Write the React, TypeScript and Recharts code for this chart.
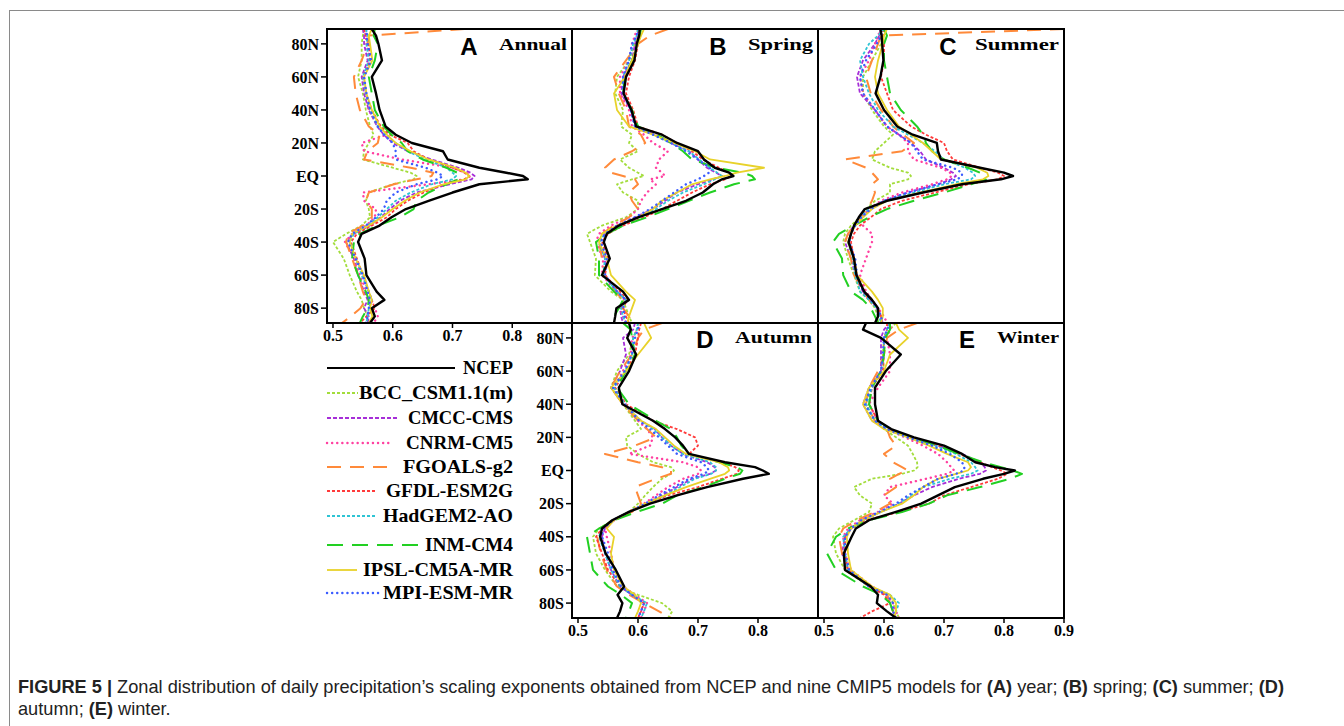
import { LineChart, Line, XAxis, YAxis } from "recharts";

// latitude grid (deg, + = N)
const LATS = [89, 85, 80, 70, 60, 50, 40, 30, 25, 20, 15, 10, 5, 2, 0, -2, -5, -10, -15, -20, -25, -30, -35, -40, -50, -60, -70, -75, -80, -85, -89];

const MODELS = ["NCEP", "BCC_CSM1.1(m)", "CMCC-CMS", "CNRM-CM5", "FGOALS-g2", "GFDL-ESM2G", "HadGEM2-AO", "INM-CM4", "IPSL-CM5A-MR", "MPI-ESM-MR"];

// rows follow MODELS order
const annual: number[][] = [
  [.565, .572, .576, .582, .565, .572, .578, .588, .605, .632, .684, .692, .745, .79, .818, .826, .745, .70, .66, .622, .598, .578, .548, .542, .553, .556, .573, .586, .565, .57, .562],
  [.552, .55, .548, .548, .542, .55, .555, .562, .568, .56, .552, .55, .60, .63, .64, .635, .60, .56, .555, .56, .562, .548, .522, .50, .518, .528, .54, .548, .552, .558, .56],
  [.55, .552, .552, .558, .548, .552, .56, .574, .585, .60, .625, .665, .71, .73, .737, .732, .695, .64, .612, .595, .58, .562, .535, .522, .535, .542, .552, .558, .552, .56, .558],
  [.552, .555, .556, .562, .552, .555, .56, .575, .59, .548, .552, .615, .70, .724, .73, .722, .66, .55, .552, .572, .57, .556, .532, .52, .536, .545, .556, .562, .57, .575, .568],
  [.72, .56, .558, .548, .535, .538, .545, .56, .578, .575, .558, .552, .63, .668, .665, .64, .602, .56, .555, .565, .565, .55, .525, .522, .532, .542, .55, .555, .546, .53, .515],
  [.552, .555, .56, .562, .55, .555, .565, .58, .595, .625, .635, .66, .70, .72, .728, .72, .685, .652, .625, .605, .59, .565, .54, .53, .54, .55, .56, .565, .57, .556, .545],
  [.555, .558, .556, .56, .55, .555, .562, .575, .588, .605, .625, .655, .69, .70, .706, .70, .665, .63, .605, .59, .575, .558, .535, .528, .538, .548, .56, .565, .56, .558, .556],
  [.57, .568, .575, .57, .56, .565, .57, .585, .598, .615, .625, .65, .69, .708, .712, .71, .69, .66, .64, .635, .612, .575, .545, .535, .532, .542, .555, .56, .558, .55, .545],
  [.565, .56, .562, .566, .552, .556, .565, .578, .59, .605, .63, .66, .705, .722, .728, .722, .685, .645, .62, .60, .582, .56, .532, .528, .538, .552, .56, .565, .562, .566, .56],
  [.558, .556, .558, .564, .552, .556, .562, .575, .585, .60, .605, .605, .655, .675, .684, .675, .64, .605, .59, .585, .572, .555, .532, .525, .538, .55, .558, .562, .56, .558, .555],
];

const spring: number[][] = [
  [.603, .602, .598, .594, .58, .576, .589, .597, .64, .665, .70, .71, .728, .752, .759, .74, .725, .708, .68, .64, .60, .568, .548, .543, .553, .54, .575, .585, .564, .562, .56],
  [.60, .598, .595, .585, .565, .562, .575, .572, .59, .585, .60, .57, .585, .60, .61, .59, .565, .575, .60, .60, .58, .54, .515, .52, .53, .528, .555, .575, .58, .585, .59],
  [.60, .60, .595, .59, .575, .572, .588, .595, .628, .655, .685, .70, .715, .73, .74, .725, .70, .665, .645, .625, .595, .565, .545, .535, .545, .545, .565, .58, .57, .572, .575],
  [.598, .595, .59, .585, .57, .57, .585, .59, .61, .625, .65, .635, .63, .64, .645, .62, .63, .615, .605, .60, .585, .555, .535, .53, .542, .54, .565, .578, .57, .575, .58],
  [.65, .62, .60, .58, .56, .568, .58, .585, .605, .612, .59, .56, .545, .555, .575, .595, .60, .585, .59, .60, .585, .56, .54, .535, .54, .545, .562, .575, .575, .585, .59],
  [.60, .60, .60, .595, .585, .58, .592, .60, .64, .665, .69, .708, .735, .752, .756, .745, .72, .69, .665, .64, .61, .575, .55, .54, .55, .545, .57, .582, .575, .58, .585],
  [.60, .598, .592, .585, .575, .575, .588, .595, .625, .655, .685, .702, .72, .732, .74, .728, .71, .675, .65, .63, .60, .568, .545, .535, .545, .542, .565, .58, .572, .575, .58],
  [.605, .603, .60, .59, .578, .575, .59, .60, .632, .655, .675, .69, .73, .775, .79, .795, .76, .72, .685, .65, .615, .575, .548, .53, .535, .535, .56, .575, .568, .56, .565],
  [.61, .605, .60, .59, .578, .56, .565, .585, .625, .66, .695, .72, .81, .765, .745, .72, .69, .665, .64, .625, .60, .565, .54, .535, .548, .555, .58, .595, .59, .585, .582],
  [.60, .598, .59, .585, .575, .575, .588, .595, .625, .655, .68, .70, .72, .718, .71, .70, .68, .66, .64, .62, .595, .565, .545, .538, .548, .545, .565, .58, .575, .578, .58],
];

const summer: number[][] = [
  [.594, .596, .597, .599, .594, .586, .60, .622, .648, .688, .69, .695, .76, .80, .815, .795, .73, .665, .605, .568, .558, .55, .545, .541, .55, .554, .567, .58, .59, .59, .585],
  [.60, .598, .595, .58, .565, .565, .58, .60, .615, .60, .585, .58, .61, .64, .645, .64, .61, .61, .585, .57, .56, .545, .535, .532, .54, .55, .56, .575, .585, .59, .59],
  [.595, .592, .585, .565, .555, .56, .585, .605, .625, .645, .66, .67, .70, .715, .72, .712, .69, .64, .60, .578, .56, .55, .54, .535, .545, .552, .565, .578, .588, .595, .598],
  [.595, .59, .585, .575, .56, .565, .585, .605, .625, .64, .64, .65, .695, .71, .713, .705, .68, .63, .595, .575, .565, .565, .58, .58, .57, .56, .57, .58, .59, .60, .605],
  [.90, .595, .59, .58, .57, .578, .595, .615, .632, .65, .63, .535, .57, .58, .585, .59, .58, .585, .58, .572, .56, .55, .54, .535, .545, .55, .565, .575, .585, .595, .595],
  [.598, .598, .60, .60, .595, .605, .615, .645, .67, .70, .705, .715, .76, .79, .80, .79, .74, .685, .63, .595, .578, .56, .55, .545, .55, .555, .568, .58, .59, .595, .595],
  [.60, .59, .575, .56, .565, .575, .59, .615, .64, .665, .685, .70, .735, .748, .752, .745, .70, .65, .60, .575, .56, .55, .545, .54, .548, .552, .56, .575, .588, .592, .595],
  [.60, .605, .60, .60, .605, .61, .628, .655, .665, .67, .68, .70, .74, .76, .765, .77, .745, .70, .65, .605, .575, .55, .525, .515, .53, .532, .545, .565, .578, .585, .59],
  [.605, .60, .598, .59, .585, .59, .605, .625, .645, .665, .68, .695, .755, .772, .774, .765, .72, .66, .605, .58, .565, .552, .545, .54, .55, .555, .58, .59, .598, .598, .595],
  [.598, .595, .588, .57, .56, .565, .585, .605, .625, .645, .655, .665, .715, .73, .73, .722, .69, .64, .60, .578, .562, .552, .545, .542, .552, .555, .565, .578, .59, .595, .598],
];

const autumn: number[][] = [
  [.585, .588, .582, .597, .585, .568, .574, .625, .645, .662, .675, .685, .745, .795, .808, .818, .775, .715, .665, .62, .585, .557, .54, .537, .546, .563, .577, .566, .574, .57, .565],
  [.60, .598, .592, .585, .565, .555, .575, .595, .605, .58, .582, .60, .625, .655, .66, .655, .64, .625, .612, .60, .585, .558, .535, .525, .53, .545, .565, .60, .64, .657, .65],
  [.595, .592, .575, .58, .57, .555, .575, .605, .628, .64, .655, .675, .715, .728, .73, .72, .69, .665, .64, .615, .585, .56, .545, .54, .545, .555, .57, .59, .61, .605, .60],
  [.60, .60, .59, .588, .575, .56, .578, .60, .615, .625, .62, .585, .675, .70, .705, .70, .675, .65, .63, .61, .585, .56, .545, .548, .555, .56, .575, .595, .615, .61, .605],
  [.64, .61, .60, .59, .57, .555, .575, .60, .615, .63, .595, .545, .60, .64, .655, .655, .63, .595, .60, .605, .59, .56, .54, .532, .538, .548, .565, .585, .61, .635, .655],
  [.605, .602, .60, .595, .58, .562, .58, .625, .665, .695, .70, .685, .74, .762, .768, .765, .74, .70, .65, .615, .585, .558, .54, .53, .54, .55, .57, .59, .61, .605, .60],
  [.60, .598, .592, .59, .578, .56, .578, .605, .625, .64, .655, .675, .72, .73, .73, .722, .695, .67, .645, .615, .585, .558, .54, .535, .545, .555, .57, .59, .615, .61, .605],
  [.575, .588, .59, .595, .58, .565, .585, .63, .655, .665, .672, .685, .735, .765, .774, .77, .745, .71, .665, .64, .598, .56, .535, .515, .52, .525, .55, .572, .59, .585, .58],
  [.61, .615, .622, .60, .58, .555, .575, .605, .63, .645, .66, .68, .735, .75, .752, .745, .72, .68, .645, .612, .585, .56, .548, .56, .555, .56, .575, .595, .605, .60, .595],
  [.602, .60, .595, .59, .578, .558, .578, .602, .62, .635, .65, .665, .705, .715, .718, .71, .685, .66, .635, .612, .585, .558, .542, .54, .55, .558, .572, .59, .61, .605, .60],
];

const winter: number[][] = [
  [.57, .565, .595, .628, .603, .585, .585, .59, .612, .65, .70, .73, .752, .785, .818, .80, .765, .718, .69, .662, .62, .575, .553, .546, .533, .535, .578, .59, .588, .605, .62],
  [.62, .61, .60, .598, .60, .575, .57, .585, .60, .62, .64, .648, .655, .656, .65, .63, .58, .55, .56, .58, .575, .55, .525, .515, .52, .535, .575, .61, .615, .62, .625],
  [.61, .60, .595, .595, .595, .575, .565, .58, .605, .645, .69, .73, .76, .768, .77, .76, .725, .68, .65, .625, .595, .565, .545, .535, .53, .54, .575, .605, .61, .615, .62],
  [.615, .61, .605, .61, .61, .59, .575, .59, .605, .635, .665, .69, .705, .712, .717, .705, .67, .61, .60, .615, .59, .56, .54, .532, .535, .545, .58, .605, .615, .62, .625],
  [.655, .625, .605, .60, .59, .575, .57, .585, .605, .61, .62, .60, .615, .63, .64, .625, .61, .62, .60, .61, .585, .555, .532, .525, .53, .54, .58, .605, .61, .615, .62],
  [.605, .605, .60, .60, .598, .58, .575, .59, .61, .645, .69, .725, .76, .78, .795, .805, .79, .745, .70, .675, .625, .57, .545, .535, .535, .54, .575, .60, .61, .58, .56],
  [.61, .605, .60, .60, .595, .58, .57, .585, .605, .64, .685, .72, .745, .752, .756, .745, .71, .665, .645, .625, .595, .565, .545, .532, .535, .54, .575, .61, .625, .62, .615],
  [.61, .61, .602, .60, .595, .58, .575, .59, .61, .645, .69, .725, .765, .795, .815, .83, .81, .76, .705, .675, .63, .575, .54, .52, .505, .52, .565, .595, .61, .615, .62],
  [.62, .625, .64, .61, .60, .575, .565, .58, .60, .64, .675, .705, .74, .745, .74, .72, .69, .665, .65, .63, .595, .565, .545, .538, .54, .545, .58, .61, .62, .62, .615],
  [.61, .605, .60, .598, .595, .578, .568, .585, .605, .64, .68, .71, .73, .734, .733, .72, .69, .665, .64, .62, .592, .562, .545, .535, .535, .542, .575, .605, .615, .615, .62],
];

const LAT_TICKS = [80, 60, 40, 20, 0, -20, -40, -60, -80];

const STYLES = [
  { color: "#000000", width: 2.4, dash: undefined as string | undefined, cap: "butt" },
  { color: "#a3dd3c", width: 1.8, dash: "3 2", cap: "butt" },
  { color: "#a62ed8", width: 1.8, dash: "4 2", cap: "butt" },
  { color: "#ff40a0", width: 2.4, dash: "0.1 5", cap: "round" },
  { color: "#ff8a3a", width: 2, dash: "14 9", cap: "butt" },
  { color: "#ff3a3a", width: 1.8, dash: "3 2", cap: "butt" },
  { color: "#2ec4d4", width: 1.8, dash: "3 2", cap: "butt" },
  { color: "#22d022", width: 2, dash: "16 9", cap: "butt" },
  { color: "#e8d22a", width: 1.8, dash: undefined, cap: "butt" },
  { color: "#3a5cff", width: 2.4, dash: "0.1 5", cap: "round" },
];

const tickFont = { fill: "#000", fontSize: 16, fontWeight: "bold", fontFamily: "'Liberation Serif', serif" };
const latLabel = (v: number) => (v === 0 ? "EQ" : v > 0 ? `${v}N` : `${-v}S`);

type PanelProps = {
  values: number[][];
  x: number;
  y: number;
  w: number;
  h: number;
  xTicks?: number[];
  showY?: boolean;
};

const PAD = 16; // room for edge tick labels

function Panel({ values, x, y, w, h, xTicks, showY }: PanelProps) {
  const rows = LATS.map((lat, i) => {
    const r: Record<string, number> = { lat };
    values.forEach((s, k) => (r["s" + k] = s[i]));
    return r;
  });
  const yw = showY ? 50 : 0;
  const xh = xTicks ? 30 : 0;
  const order = [1, 2, 3, 4, 5, 6, 7, 8, 9, 0];
  const W = w + yw + PAD * 2;
  return (
    <div style={{ position: "absolute", left: x - yw - PAD, top: y, width: W, height: h + xh }}>
      <LineChart layout="vertical" width={W} height={h + xh} data={rows} margin={{ top: 0, right: PAD, bottom: 0, left: PAD }}>
        <XAxis
          type="number"
          domain={[0.49, 0.9]}
          allowDataOverflow
          hide={!xTicks}
          height={xh}
          ticks={xTicks}
          interval={0}
          axisLine={false}
          tickSize={5}
          tickLine={{ stroke: "#000", strokeWidth: 1.5 }}
          tick={tickFont}
          tickFormatter={(v: number) => v.toFixed(1)}
        />
        <YAxis
          type="number"
          dataKey="lat"
          domain={[-89, 89]}
          reversed
          allowDataOverflow
          hide={!showY}
          width={yw}
          ticks={LAT_TICKS}
          interval={0}
          axisLine={false}
          tickSize={6}
          tickLine={{ stroke: "#000", strokeWidth: 1.5 }}
          tick={tickFont}
          tickFormatter={latLabel}
        />
        {order.map((k) => (
          <Line
            key={k}
            dataKey={"s" + k}
            name={MODELS[k]}
            type="linear"
            stroke={STYLES[k].color}
            strokeWidth={STYLES[k].width}
            strokeDasharray={STYLES[k].dash}
            strokeLinecap={STYLES[k].cap as any}
            strokeLinejoin="round"
            dot={false}
            isAnimationActive={false}
          />
        ))}
      </LineChart>
      <div
        style={{
          position: "absolute",
          left: PAD + yw - 1,
          top: -1,
          width: w + 2,
          height: h + 2,
          border: "2px solid #000",
          boxSizing: "border-box",
          pointerEvents: "none",
        }}
      />
    </div>
  );
}

// legend rows: line end x, y, text width
const LEGEND_Y = [368, 393, 418, 443, 467, 491, 516, 545, 570, 593];
const LEGEND_END = [455, 358, 397, 391, 387, 377, 377, 420, 357, 382];
const LEGEND_TW = [50, 154, 105, 107, 110, 127, 130, 88, 150, 130];

const TITLES = [
  { letter: "A", lx: 469, ty: 55, name: "Annual", nx: 499, nw: 68 },
  { letter: "B", lx: 718, ty: 55, name: "Spring", nx: 748, nw: 65 },
  { letter: "C", lx: 948, ty: 55, name: "Summer", nx: 975, nw: 84 },
  { letter: "D", lx: 705, ty: 348, name: "Autumn", nx: 735, nw: 77 },
  { letter: "E", lx: 967, ty: 348, name: "Winter", nx: 997, nw: 62 },
];

export default function App() {
  const xt = [0.5, 0.6, 0.7, 0.8];
  return (
    <div style={{ position: "absolute", left: 0, top: 0, width: 1344, height: 726, background: "#fff", overflow: "hidden" }}>
      <div style={{ position: "absolute", left: 9, top: 10, width: 1340, height: 720, borderTop: "1px solid #8a8a8a", borderLeft: "1px solid #8a8a8a" }} />
      <Panel values={annual} x={327} y={29} w={245} h={294} xTicks={xt} showY />
      <Panel values={spring} x={572} y={29} w={246} h={294} />
      <Panel values={summer} x={818} y={29} w={246} h={294} />
      <Panel values={autumn} x={572} y={323} w={246} h={295} xTicks={xt} showY />
      <Panel values={winter} x={818} y={323} w={246} h={295} xTicks={[0.5, 0.6, 0.7, 0.8, 0.9]} />
      <svg width={1344} height={726} style={{ position: "absolute", left: 0, top: 0, pointerEvents: "none" }}>
        {TITLES.map((t) => (
          <g key={t.letter}>
            <text x={t.lx} y={t.ty} textAnchor="middle" fontFamily="'Liberation Sans', Arial, sans-serif" fontWeight="bold" fontSize={24} fill="#000">
              {t.letter}
            </text>
            <text x={t.nx} y={t.ty - 5} fontFamily="'Liberation Serif', serif" fontWeight="bold" fontSize={17} fill="#000" textLength={t.nw} lengthAdjust="spacingAndGlyphs">
              {t.name}
            </text>
          </g>
        ))}
        {MODELS.map((m, k) => (
          <g key={m}>
            <line
              x1={327}
              x2={LEGEND_END[k]}
              y1={LEGEND_Y[k]}
              y2={LEGEND_Y[k]}
              stroke={STYLES[k].color}
              strokeWidth={k === 0 ? 1.8 : STYLES[k].width}
              strokeDasharray={STYLES[k].dash}
              strokeLinecap={STYLES[k].cap as any}
            />
            <text
              x={513}
              y={LEGEND_Y[k] + 6}
              textAnchor="end"
              fontFamily="'Liberation Serif', serif"
              fontWeight="bold"
              fontSize={19}
              fill="#000"
              textLength={LEGEND_TW[k]}
              lengthAdjust="spacingAndGlyphs"
            >
              {m}
            </text>
          </g>
        ))}
      </svg>
      <div
        style={{
          position: "absolute",
          left: 18,
          top: 676,
          fontFamily: "'Liberation Sans', Arial, sans-serif",
          fontSize: 18.2,
          lineHeight: "22px",
          color: "#222",
          whiteSpace: "nowrap",
        }}
      >
        <b>FIGURE 5 |</b> Zonal distribution of daily precipitation’s scaling exponents obtained from NCEP and nine CMIP5 models for <b>(A)</b> year; <b>(B)</b> spring; <b>(C)</b> summer; <b>(D)</b>
        <br />
        autumn; <b>(E)</b> winter.
      </div>
    </div>
  );
}
